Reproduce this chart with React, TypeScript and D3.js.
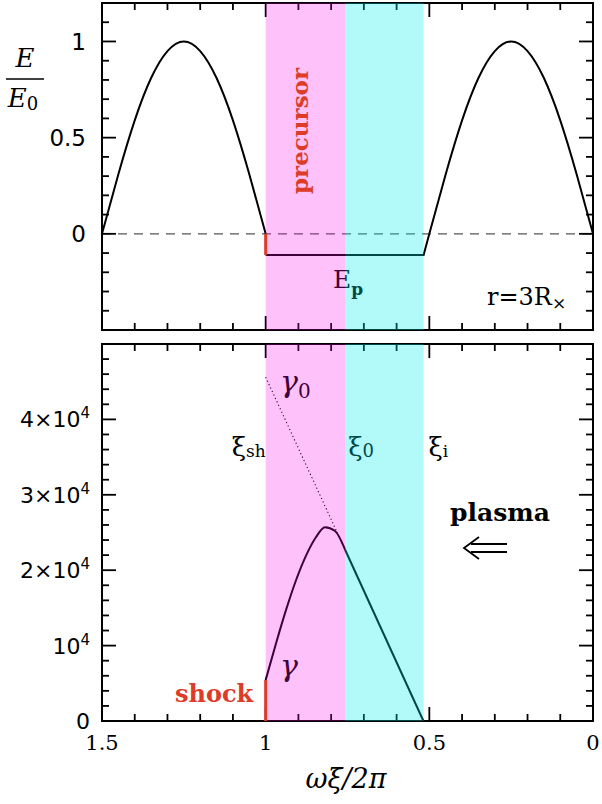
import React from 'react';
import * as d3 from 'd3';

const W = 602;
const H = 804;

// axes domains
const xDomain = [1.5, 0];
const eDomain = [-0.5, 1.2];
const gDomain = [0, 50000];

// top panel: E/E0 arcs
const arcLeftX = [1.5, 1.45, 1.4, 1.35, 1.3, 1.25, 1.2, 1.15, 1.1, 1.05, 1.0];
const arcLeftE = [0, 0.31, 0.59, 0.81, 0.95, 1.0, 0.95, 0.81, 0.59, 0.31, 0];
const arcRightX = [0.5, 0.45, 0.4, 0.35, 0.3, 0.25, 0.2, 0.15, 0.1, 0.05, 0.0];
const arcRightE = [0, 0.31, 0.59, 0.81, 0.95, 1.0, 0.95, 0.81, 0.59, 0.31, 0];
const precursorX = [1.0, 0.5175, 0.5];
const precursorE = [-0.11, -0.11, 0];
const shockTopE = [0, -0.11];

// bottom panel: gamma
const gammaX = [1.0, 0.968, 0.938, 0.907, 0.877, 0.846, 0.819, 0.788, 0.757];
const gammaV = [5440, 10350, 14700, 18700, 21900, 24400, 25700, 25200, 22680];
const plasmaX = [0.757, 0.518];
const plasmaV = [22680, 0];
const gamma0X = [1.0, 0.757];
const gamma0V = [45600, 22680];
const shockBottomV = [0, 5440];

const shockX = 1.0;
const precursorBand = [1.0, 0.757];
const plasmaBand = [0.757, 0.5175];
const xiPos = { sh: 1.0, zero: 0.757, i: 0.518 };

const xTicks = [1.5, 1, 0.5, 0];
const xTickLabels = ['1.5', '1', '0.5', '0'];
const eTicks = [1, 0.5, 0];
const eTickLabels = ['1', '0.5', '0'];
const gTicks = [0, 10000, 20000, 30000, 40000];
const gTickMant = ['0', '', '2×', '3×', '4×'];

// layout
const L = 102, R = 593;
const T1 = 3, B1 = 330;
const T2 = 344, B2 = 721;

const PINK = 'rgba(255,0,232,0.245)';
const CYAN = 'rgba(0,240,240,0.30)';
const RED = '#dc3c28';
const SERIF = '"DejaVu Serif", "Liberation Serif", serif';
const SANS = '"DejaVu Sans", "Liberation Sans", sans-serif';

const x = d3.scaleLinear().domain(xDomain).range([L, R]);
const yE = d3.scaleLinear().domain(eDomain).range([B1, T1]);
const yG = d3.scaleLinear().domain(gDomain).range([B2, T2]);

function Ticks({ y, top, bottom, majorY, minorY }: any) {
  const items: any[] = [];
  const majX = x.ticks(3);
  const minX = x.ticks(15);
  const ML = 14, ms = 7;
  minX.forEach((v: number, i: number) => {
    const isMaj = majX.some((m: number) => Math.abs(m - v) < 1e-9);
    const len = isMaj ? ML : ms;
    items.push(<line key={'xb' + i} x1={x(v)} x2={x(v)} y1={bottom} y2={bottom - len} />);
    items.push(<line key={'xt' + i} x1={x(v)} x2={x(v)} y1={top} y2={top + len} />);
  });
  minorY.forEach((v: number, i: number) => {
    const isMaj = majorY.some((m: number) => Math.abs(m - v) < 1e-6);
    const len = isMaj ? ML : ms;
    items.push(<line key={'yl' + i} x1={L} x2={L + len} y1={y(v)} y2={y(v)} />);
    items.push(<line key={'yr' + i} x1={R} x2={R - len} y1={y(v)} y2={y(v)} />);
  });
  return <g stroke="#000" strokeWidth={1.8}>{items}</g>;
}

export default function App() {
  const mk = (xs: number[], ys: number[], sy: any, curve: any) =>
    d3.line<number>()
      .x((_, i) => x(xs[i]))
      .y((d) => sy(d))
      .curve(curve)(ys) as string;

  const leftArc = mk(arcLeftX, arcLeftE, yE, d3.curveNatural);
  const rightArc = mk(arcRightX, arcRightE, yE, d3.curveNatural);
  const precursor = mk(precursorX, precursorE, yE, d3.curveLinear);
  const gammaPath = mk(gammaX, gammaV, yG, d3.curveMonotoneX);
  const plasmaPath = mk(plasmaX, plasmaV, yG, d3.curveLinear);
  const gamma0Path = mk(gamma0X, gamma0V, yG, d3.curveLinear);

  return (
    <svg width={W} height={H} style={{ position: 'absolute', left: 0, top: 0, background: '#fff' }}
      xmlns="http://www.w3.org/2000/svg">
      <rect x={0} y={0} width={W} height={H} fill="#fff" />

      {/* ---------- TOP PANEL ---------- */}
      <line x1={L} x2={R} y1={yE(0)} y2={yE(0)} stroke="#555" strokeWidth={1.2} strokeDasharray="9,7" />
      <path d={leftArc} fill="none" stroke="#000" strokeWidth={2} />
      <path d={rightArc} fill="none" stroke="#000" strokeWidth={2} />
      <path d={precursor} fill="none" stroke="#000" strokeWidth={2} />
      <Ticks y={yE} top={T1} bottom={B1} majorY={yE.ticks(4)} minorY={yE.ticks(17)} />
      <rect x={L} y={T1} width={R - L} height={B1 - T1} fill="none" stroke="#000" strokeWidth={2} />

      <text x={333} y={288} fontFamily={SERIF} fontSize={25} fill="#000">
        E<tspan fontSize={17} dy={7} fontWeight="bold">p</tspan>
      </text>
      <text x={487} y={305} fontFamily={SERIF} fontSize={24} fill="#000">
        r=3R<tspan fontSize={17} dy={4}>×</tspan>
      </text>

      {/* y label E/E0 */}
      <text x={25} y={67} textAnchor="middle" fontFamily={SERIF} fontStyle="italic" fontSize={26}>E</text>
      <line x1={6} x2={44} y1={79} y2={79} stroke="#000" strokeWidth={1.6} />
      <text x={23} y={107} textAnchor="middle" fontFamily={SERIF} fontSize={26}>
        <tspan fontStyle="italic">E</tspan><tspan fontSize={18} dy={3}>0</tspan>
      </text>

      {eTicks.map((v, i) => (
        <text key={'el' + i} x={86} y={yE(v)} dy="0.36em" textAnchor="end" fontFamily={SANS} fontSize={23}>
          {eTickLabels[i]}
        </text>
      ))}

      {/* ---------- BOTTOM PANEL ---------- */}
      <path d={gamma0Path} fill="none" stroke="#000" strokeWidth={1.1} strokeDasharray="1.2,2.6" />
      <path d={gammaPath} fill="none" stroke="#000" strokeWidth={2} />
      <path d={plasmaPath} fill="none" stroke="#000" strokeWidth={2} />
      <Ticks y={yG} top={T2} bottom={B2} majorY={yG.ticks(5)} minorY={yG.ticks(25)} />
      <rect x={L} y={T2} width={R - L} height={B2 - T2} fill="none" stroke="#000" strokeWidth={2} />

      <text x={280} y={392} fontFamily={SERIF} fontStyle="italic" fontSize={30}>
        γ<tspan fontStyle="normal" fontSize={20} dy={6}>0</tspan>
      </text>
      <text x={x(xiPos.sh) - 34} y={456} fontFamily={SERIF} fontSize={26}>
        ξ<tspan fontSize={17} dy={1}>sh</tspan>
      </text>
      <text x={x(xiPos.zero) + 3} y={456} fontFamily={SERIF} fontSize={26}>
        ξ<tspan fontSize={18} dy={1}>0</tspan>
      </text>
      <text x={x(xiPos.i) + 5} y={456} fontFamily={SERIF} fontSize={26}>
        ξ<tspan fontSize={17} dy={1}>i</tspan>
      </text>
      <text x={280} y={676} fontFamily={SERIF} fontStyle="italic" fontSize={30}>γ</text>

      <text x={450} y={521} fontFamily={SERIF} fontWeight="bold" fontSize={25}>plasma</text>
      <g stroke="#000" strokeWidth={1.8} fill="none">
        <line x1={471} x2={507} y1={544} y2={544} />
        <line x1={471} x2={507} y1={552} y2={552} />
        <polyline points="479,537 464,548 479,559" />
      </g>

      {gTicks.map((v, i) => (
        <text key={'gl' + i} x={90} y={yG(v)} dy="0.36em" textAnchor="end" fontFamily={SANS} fontSize={22}>
          {v === 0 ? '0' : (
            <>
              {gTickMant[i]}10<tspan fontSize={15} dy={-9}>4</tspan>
            </>
          )}
        </text>
      ))}

      {xTicks.map((v, i) => (
        <text key={'xl' + i} x={x(v)} y={750} textAnchor="middle" fontFamily={SERIF} fontSize={21}>
          {xTickLabels[i]}
        </text>
      ))}
      <text x={346} y={788} textAnchor="middle" fontFamily={SERIF} fontStyle="italic" fontSize={27}>
        ωξ/2π
      </text>

      {/* ---------- BANDS (translucent, over curves) ---------- */}
      {[[T1, B1], [T2, B2]].map(([t, b], i) => (
        <g key={'band' + i}>
          <rect x={x(precursorBand[0])} y={t} width={x(precursorBand[1]) - x(precursorBand[0])} height={b - t} fill={PINK} />
          <rect x={x(plasmaBand[0])} y={t} width={x(plasmaBand[1]) - x(plasmaBand[0])} height={b - t} fill={CYAN} />
        </g>
      ))}

      {/* ---------- RED OVERLAYS ---------- */}
      <line x1={x(shockX)} x2={x(shockX)} y1={yE(shockTopE[0])} y2={yE(shockTopE[1])} stroke={RED} strokeWidth={3} />
      <line x1={x(shockX)} x2={x(shockX)} y1={yG(shockBottomV[0])} y2={yG(shockBottomV[1])} stroke={RED} strokeWidth={3} />
      <text transform="translate(308,131) rotate(-90)" textAnchor="middle" fontFamily={SERIF} fontWeight="bold"
        fontSize={23} fill={RED}>precursor</text>
      <text x={175} y={702} fontFamily={SERIF} fontWeight="bold" fontSize={24} fill={RED}>shock</text>
    </svg>
  );
}
